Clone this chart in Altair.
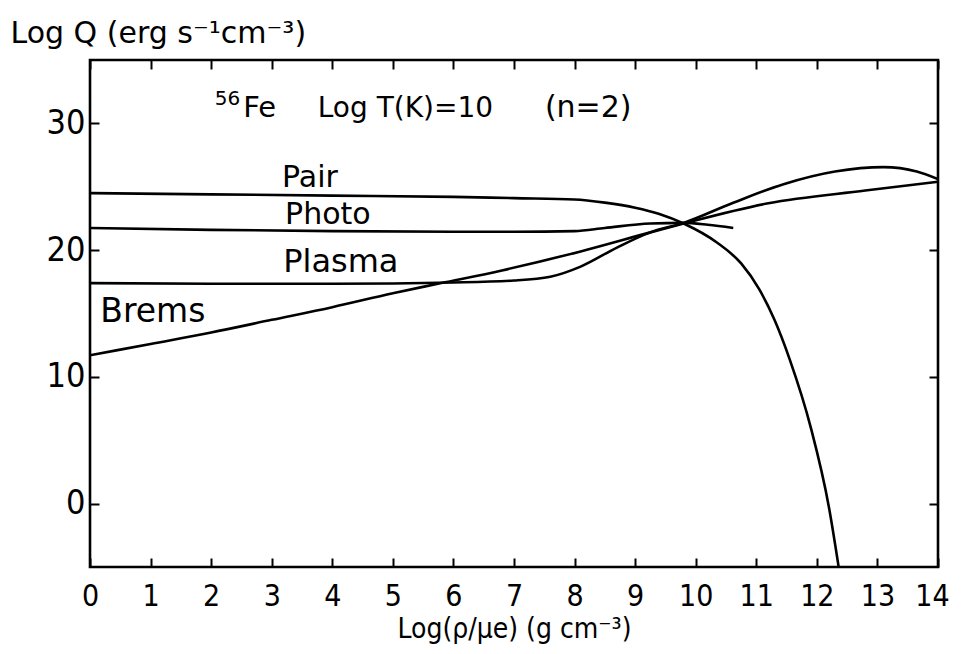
import altair as alt
import pandas as pd

# ---- data ----
x_ticks = list(range(0, 15))
y_ticks = [0, 10, 20, 30]

pair_x = [0, 2, 4, 6, 7, 8, 8.5, 9, 9.4, 9.8, 10.35, 10.75, 11.05, 11.3, 11.55, 11.9, 12.2, 12.36]
pair_y = [24.5, 24.4, 24.3, 24.2, 24.1, 24.0, 23.75, 23.35, 22.85, 22.1, 20.6, 18.95, 16.9, 14.5, 11.4, 6.0, -0.3, -5.0]

photo_x = [0, 2, 4, 6, 7, 8, 8.5, 9.25, 9.8, 10.2, 10.62]
photo_y = [21.75, 21.6, 21.5, 21.45, 21.45, 21.5, 21.75, 22.1, 22.15, 22.0, 21.75]

plasma_x = [0, 2, 4, 6, 7, 7.6, 8.1, 8.7, 9.25, 9.8, 10.6, 11.45, 12.3, 13.1, 13.65, 14]
plasma_y = [17.4, 17.35, 17.35, 17.45, 17.6, 17.9, 18.7, 20.2, 21.4, 22.15, 23.7, 25.2, 26.2, 26.55, 26.2, 25.6]

brems_x = [0, 1, 2, 3, 4, 5, 5.8, 6.8, 8.1, 9.25, 9.8, 11.2, 12.8, 14]
brems_y = [11.7, 12.6, 13.5, 14.5, 15.5, 16.6, 17.4, 18.4, 19.9, 21.4, 22.1, 23.7, 24.7, 25.4]

label_text = ["Pair", "Photo", "Plasma", "Brems"]
label_x = [3.17, 3.22, 3.19, 0.17]
label_y = [24.95, 22.1, 18.3, 14.3]
label_size = [30, 30, 32, 33]

header_text = ["56", "Fe", "Log T(K)=10", "(n=2)"]
header_x = [2.06, 2.53, 3.76, 7.51]
header_y = [31.45, 30.5, 30.5, 30.5]
header_size = [20, 29, 28, 30]

rows = []
for name, xs, ys in [("Pair", pair_x, pair_y), ("Photo", photo_x, photo_y),
                     ("Plasma", plasma_x, plasma_y), ("Brems", brems_x, brems_y)]:
    for i, (a, b) in enumerate(zip(xs, ys)):
        rows.append({"series": name, "x": a, "y": b, "order": i})
df = pd.DataFrame(rows)

labels_df = pd.DataFrame({"text": label_text, "x": label_x, "y": label_y, "fs": label_size})
header_df = pd.DataFrame({"text": header_text, "x": header_x, "y": header_y, "fs": header_size})

FONT = "DejaVu Sans, sans-serif"
FONT_C = "DejaVu Sans Condensed, DejaVu Sans, sans-serif"
W, H = 848, 507

xscale = alt.Scale(domain=[0, 14], nice=False, zero=False)
yscale = alt.Scale(domain=[-5, 35], nice=False, zero=False)

lines = alt.Chart(df).mark_line(color="black", strokeWidth=2.6, interpolate="monotone", clip=True).encode(
    x=alt.X("x:Q", scale=xscale, axis=alt.Axis(
        orient="bottom", values=x_ticks, ticks=False, tickSize=0, domain=False, grid=False,
        labelFont=FONT_C, labelFontSize=30, labelColor="black", labelPadding=14, labelFlush=False,
        labelOffset={"condition": {"test": "datum.value >= 14", "value": -6}, "value": 0},
        title="Log(ρ/μe) (g cm⁻³)", titleFont=FONT_C, titleFontSize=28, titleFontWeight="normal",
        titleColor="black", titleBaseline="alphabetic", titleY=70)),
    y=alt.Y("y:Q", scale=yscale, axis=alt.Axis(
        orient="left", values=y_ticks, ticks=False, tickSize=0, domain=False, grid=False,
        labelFont=FONT_C, labelFontSize=34, labelColor="black", labelPadding=5,
        title="Log Q (erg s⁻¹cm⁻³)", titleFont=FONT, titleFontSize=30, titleFontWeight="normal",
        titleColor="black", titleAngle=0, titleAlign="left", titleBaseline="alphabetic",
        titleX=-80, titleY=-18)),
    detail="series:N",
    order="order:Q",
)

annot = alt.Chart(labels_df).mark_text(align="left", baseline="alphabetic", font=FONT,
                                       color="black").encode(
    x=alt.X("x:Q", scale=xscale, axis=alt.Axis(
        orient="top", offset=-H, values=x_ticks, labels=False, domain=False, grid=False,
        ticks=True, tickSize=9, tickWidth=2, tickColor="black", title=None)),
    y=alt.Y("y:Q", scale=yscale, axis=alt.Axis(
        orient="right", offset=-W, values=y_ticks, labels=False, domain=False, grid=False,
        ticks=True, tickSize=9, tickWidth=2, tickColor="black", title=None)),
    text="text:N",
    size=alt.Size("fs:Q", scale=None, legend=None),
)

header = alt.Chart(header_df).mark_text(align="left", baseline="alphabetic", font=FONT,
                                        color="black").encode(
    x=alt.X("x:Q", scale=xscale, axis=alt.Axis(
        orient="bottom", offset=-H, values=x_ticks, labels=False, domain=False, grid=False,
        ticks=True, tickSize=9, tickWidth=2, tickColor="black", title=None)),
    y=alt.Y("y:Q", scale=yscale, axis=alt.Axis(
        orient="left", offset=-W, values=y_ticks, labels=False, domain=False, grid=False,
        ticks=True, tickSize=9, tickWidth=2, tickColor="black", title=None)),
    text="text:N",
    size=alt.Size("fs:Q", scale=None, legend=None),
)

chart = alt.layer(lines, annot, header).resolve_axis(
    x="independent", y="independent"
).properties(
    width=W, height=H,
    autosize=alt.AutoSizeParams(type="none"),
    padding={"left": 82, "top": 52, "right": 15, "bottom": 78},
    background="white",
).configure_view(stroke="black", strokeWidth=2.6)

chart.save("out.html", embed_options={"renderer": "svg", "actions": False})
